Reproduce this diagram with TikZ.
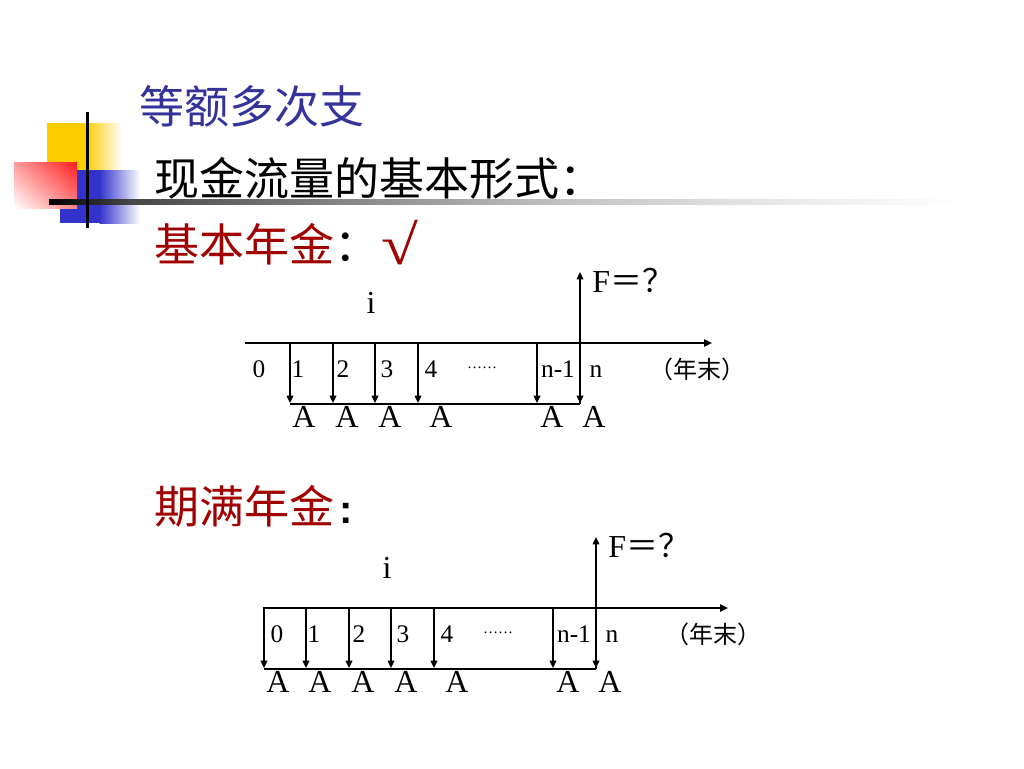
\documentclass[tikz,border=0pt]{standalone}
\usepackage{fontspec}
\setmainfont{Liberation Serif}
\newfontfamily\cjk{Noto Sans CJK SC}
\newfontfamily\arialbold{Liberation Sans Bold}
\usetikzlibrary{arrows.meta,shadings}
\definecolor{ttlblue}{RGB}{51,51,153}
\definecolor{dkred}{RGB}{160,0,0}
\definecolor{decoyellow}{RGB}{255,204,0}
\definecolor{decoblue}{RGB}{51,51,204}
\definecolor{decored}{RGB}{255,30,30}
\pgfdeclarehorizontalshading{rulefade}{100bp}{color(0bp)=(black); color(25bp)=(black); color(29.5bp)=(black!72); color(44bp)=(black!42); color(53bp)=(black!24); color(65bp)=(black!9); color(75bp)=(white); color(100bp)=(white)}
\begin{document}
\begin{tikzpicture}[x=0.75pt,y=-0.75pt,
  flow/.style={line width=1pt,-{Triangle[length=5.5pt,width=5pt]}},
  axisline/.style={line width=1pt,-{Triangle[length=6pt,width=5.5pt]}},
  plainline/.style={line width=1pt},
  tick/.style={font=\fontsize{19}{21}\selectfont,inner sep=0pt,anchor=base},
  amt/.style={font=\fontsize{24}{26}\selectfont,inner sep=0pt,anchor=base},
  rate/.style={font=\fontsize{24}{26}\selectfont,inner sep=0pt,anchor=base},
  unit/.style={font=\cjk\fontsize{18}{20}\selectfont,inner sep=0pt},
  dotsl/.style={font=\fontsize{11.25}{12}\selectfont,inner sep=0pt,anchor=base},
  fut/.style={font=\fontsize{24}{26}\selectfont,inner sep=0pt,anchor=base west},
  heading/.style={font=\cjk\fontsize{33.75}{36}\selectfont,inner sep=0pt,anchor=west},
]
\useasboundingbox (0,0) rectangle (1024,768);
\fill[white] (0,0) rectangle (1024,768);

% ---- decoration ----
\fill[decoyellow] (47,123) rectangle (86,200);
\shade[left color=decoyellow,right color=white] (85.5,123) rectangle (122,200);
\fill[decoblue] (60,170) rectangle (100,223);
\shade[left color=decoblue,right color=white] (99.5,170) rectangle (140,223);
\shade[upper left=decored!45!white,upper right=decored,lower left=white,lower right=decored!55!white] (14,162) rectangle (77,208);
\shade[shading=rulefade] (49,199.5) rectangle (960,204);
\fill[black] (85.5,112) rectangle (89,228);

% ---- headings ----
\node[heading,text=ttlblue] (title) at (139,106) {等额多次支};
\node[heading] (sub) at (154,178) {现金流量的基本形式：};
\node[heading,text=dkred] (basic) at (154,244) {基本年金\textcolor{black}{：}};
\node[font=\bfseries\fontsize{42}{44}\selectfont,text=dkred,inner sep=0pt,xscale=1.2] (check) at (400,243) {√};
\node[heading,text=dkred] (due) at (154,506) {期满年金};
\node[font=\arialbold\fontsize{30}{32}\selectfont,inner sep=0pt,anchor=base west] (duecolon) at (339,523) {:};

% ---- diagram 1: ordinary annuity ----
\coordinate (a1s) at (245,343);
\coordinate (a1e) at (712,343);
\draw[axisline] (a1s) -- (a1e);
\foreach \k/\x in {1/290,2/333,3/375,4/418,m/537,n/580}{
  \coordinate (a1t\k) at (\x,343);
  \coordinate (a1b\k) at (\x,403);
  \draw[flow] (a1t\k) -- (a1b\k);
}
\coordinate (a1l) at (290,404);
\coordinate (a1r) at (580,404);
\draw[plainline] (a1l) -- (a1r);
\coordinate (a1top) at (580,272);
\draw[flow] (a1r) -- (a1top);
\foreach \k/\x/\t in {0/259/0,1/298/1,2/343/2,3/387/3,4/431/4,m/558/n-1,n/596/n}{
  \node[tick] (d1l\k) at (\x,377) {\t};
}
\node[dotsl] (d1dots) at (482,368) {……};
\node[unit] (d1unit) at (697,369) {（年末）};
\foreach \k/\x in {1/304,2/347,3/390,4/441,m/552,n/594}{
  \node[amt] (d1A\k) at (\x,427) {A};
}
\node[rate] (d1i) at (371,313) {i};
\node[fut] (d1F) at (592,292) {F{\cjk ＝？}};

% ---- diagram 2: annuity due ----
\begin{scope}[shift={(16,265)}]
\coordinate (a2s) at (247,343);
\coordinate (a2e) at (712,343);
\draw[axisline] (a2s) -- (a2e);
\foreach \k/\x in {0/248,1/290,2/333,3/375,4/418,m/537,n/580}{
  \coordinate (a2t\k) at (\x,343);
  \coordinate (a2b\k) at (\x,403);
  \draw[flow] (a2t\k) -- (a2b\k);
}
\coordinate (a2l) at (248,404);
\coordinate (a2r) at (580,404);
\draw[plainline] (a2l) -- (a2r);
\coordinate (a2top) at (580,272);
\draw[flow] (a2r) -- (a2top);
\foreach \k/\x/\t in {0/261/0,1/298/1,2/343/2,3/387/3,4/431/4,m/558/n-1,n/596/n}{
  \node[tick] (d2l\k) at (\x,377) {\t};
}
\node[dotsl] (d2dots) at (482,368) {……};
\node[unit] (d2unit) at (697,369) {（年末）};
\foreach \k/\x in {0/262,1/304,2/347,3/390,4/441,m/552,n/594}{
  \node[amt] (d2A\k) at (\x,427) {A};
}
\node[rate] (d2i) at (371,313) {i};
\node[fut] (d2F) at (592,292) {F{\cjk ＝？}};
\end{scope}
\end{tikzpicture}
\end{document}
